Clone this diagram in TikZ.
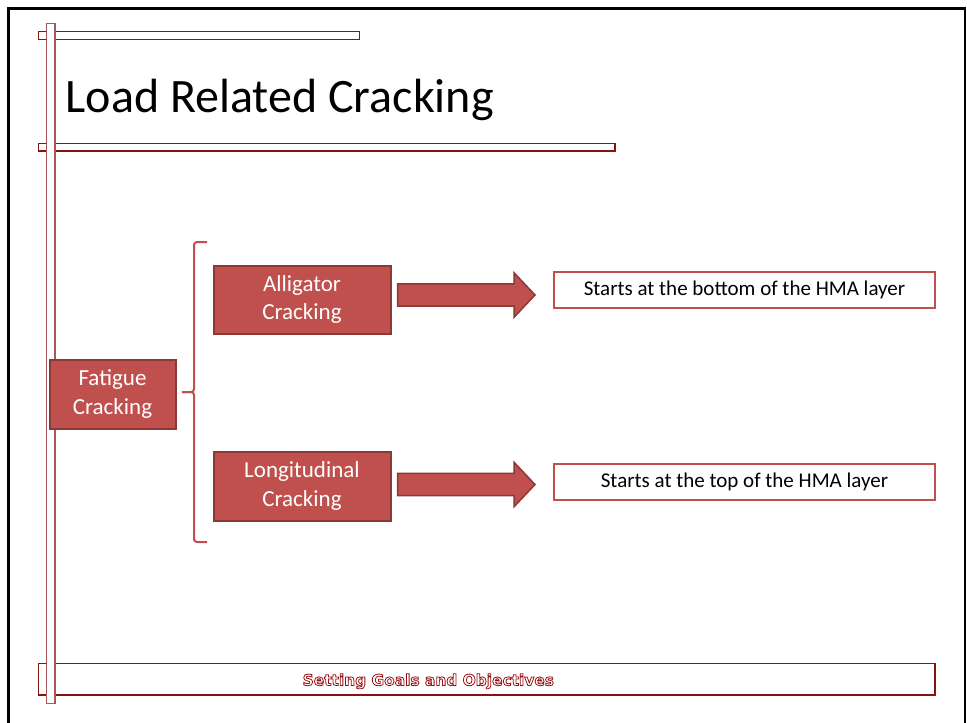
\documentclass[tikz,border=0pt]{standalone}
\usepackage{fontspec}
\setmainfont{Carlito}
\newfontfamily\footfont{DejaVu Sans}
\definecolor{accent}{HTML}{C0504D}
\definecolor{accentdark}{HTML}{8C3836}
\definecolor{barred}{HTML}{8B1111}
\definecolor{barpale}{HTML}{A85858}
% outlined lettering: white fill, dark red stroke
\newcommand{\outlinedtext}[1]{%
  \special{pdf:literal direct 0.6 0.06 0.06 RG 0.8 w 2 Tr}#1\special{pdf:literal direct 0 Tr}}
\begin{document}
\begin{tikzpicture}[x=1pt,y=-1pt,
  redbox/.style={draw=accentdark, line width=2pt, fill=accent, text=white,
    align=center, font=\fontsize{23}{28.3}\selectfont, inner sep=0pt},
  notebox/.style={draw=accent, line width=2pt, fill=white,
    font=\fontsize{21}{25}\selectfont, inner sep=0pt,
    minimum width=381pt, minimum height=36pt},
  blockarrow/.style={draw=accentdark, line width=1.5pt, fill=accent, line join=miter},
  bar/.style={draw=barred, line width=1.3pt, fill=white},
  footertext/.style={font=\footfont\bfseries\fontsize{15.4}{18}\selectfont, anchor=base, inner sep=0pt},
]
\useasboundingbox (0,0) rectangle (967,723);

% slide frame
\draw[black, line width=2.5pt] (8.7,723) -- (8.7,8.7) -- (965,8.7) -- (965,723);

% decorative rails
\draw[bar] (38.7,31.3) rectangle (359.3,39.3);
\draw[bar] (38.7,143.3) rectangle (615,151);
\draw[bar] (38.7,663.3) rectangle (935,695);
\draw[draw=barpale, line width=1.3pt, fill=white] (46.7,23.3) rectangle (55,703.3);

% title
\node[anchor=base west, font=\fontsize{48}{58}\selectfont, inner sep=0pt] (title)
  at (65.5,112) {Load Related Cracking};

% hierarchy boxes
\node[redbox, minimum width=126pt, minimum height=69pt] (fatigue) at (112.5,394) {Fatigue\\Cracking};
\node[redbox, minimum width=177pt, minimum height=68pt] (alligator) at (302,299.5) {Alligator\\Cracking};
\node[redbox, minimum width=177pt, minimum height=69pt] (longit) at (302,486) {Longitudinal\\Cracking};

% brace grouping the two crack types
\draw[accent, line width=2pt, rounded corners=3pt]
  (207,242) -- (194,242) -- (194,392) -- (182,392);
\draw[accent, line width=2pt, rounded corners=3pt]
  (182,392) -- (194,392) -- (194,542) -- (207,542);

% block arrows
\coordinate (tailA) at (397.5,295);
\coordinate (tailB) at (397.5,484.5);
\foreach \t in {tailA,tailB}
  \draw[blockarrow, shift={(\t)}]
    (0,-11.2) -- (116.5,-11.2) -- (116.5,-22.3) -- (137.5,0) -- (116.5,22.3)
    -- (116.5,11.2) -- (0,11.2) -- cycle;

% descriptions
\node[notebox] (noteA) at (744.5,289.5) {Starts at the bottom of the HMA layer};
\node[notebox] (noteB) at (744.5,482) {Starts at the top of the HMA layer};

% footer title
\node[footertext, text=white] (footer) at (428.3,685.5) {\outlinedtext{Setting Goals and Objectives}};
\end{tikzpicture}
\end{document}
